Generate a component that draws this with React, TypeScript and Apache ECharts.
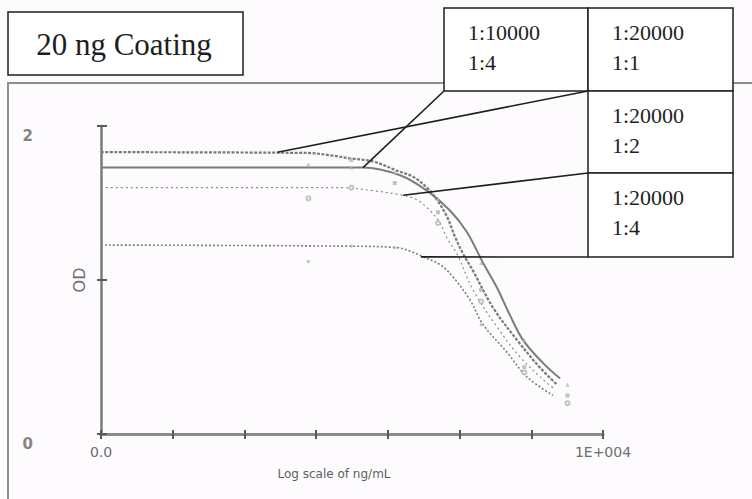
import React, { useEffect, useRef } from "react";
import * as echarts from "echarts";

// Dilution labels shown in the legend table (antibody dilution / sample dilution)
const seriesLabels = [
  ["1:10000", "1:4"],
  ["1:20000", "1:1"],
  ["1:20000", "1:2"],
  ["1:20000", "1:4"],
];

// Fitted curves, [ng/mL, OD]
const curve10000x4: [number, number][] = [
  [0.001, 1.73], [4.5, 1.73], [14.8, 1.68], [35, 1.58], [74, 1.45], [127, 1.31],
  [213, 1.11], [333, 0.95], [506, 0.77], [769, 0.61], [1462, 0.46], [2523, 0.36],
];
const curve20000x1: [number, number][] = [
  [0.001, 1.83], [0.75, 1.825], [1.56, 1.81], [2.97, 1.79], [6.2, 1.77], [13.4, 1.71],
  [22.5, 1.67], [35, 1.6], [48.5, 1.52], [67, 1.41], [86.5, 1.28], [112, 1.17],
  [154, 1.06], [293, 0.82], [634, 0.61], [1327, 0.43], [2290, 0.32],
];
const curve20000x2: [number, number][] = [
  [0.001, 1.6], [2.15, 1.6], [6.2, 1.58], [16.3, 1.55], [25.5, 1.52], [38.8, 1.45],
  [53.5, 1.37], [67, 1.27], [92, 1.17], [154, 0.935], [333, 0.695], [698, 0.5],
  [1660, 0.33], [2150, 0.29],
];
const curve20000x4: [number, number][] = [
  [0.001, 1.227], [2.15, 1.22], [13.4, 1.21], [22.5, 1.18], [31, 1.15], [53.5, 1.1],
  [81, 1.02], [140, 0.87], [213, 0.71], [460, 0.53], [874, 0.37], [2015, 0.25],
];

// Measured standards, [ng/mL, OD]
const points10000x4: [number, number][] = [
  [0.78, 1.75], [3.1, 1.73], [12.5, 1.7], [50, 1.53], [200, 1.11], [800, 0.61], [3200, 0.32],
];
const points20000x1: [number, number][] = [
  [3.1, 1.78], [12.5, 1.63], [50, 1.44], [200, 0.935], [800, 0.435], [3200, 0.25],
];
const points20000x2: [number, number][] = [
  [0.78, 1.53], [3.1, 1.6], [50, 1.37], [200, 0.86], [800, 0.4], [3200, 0.2],
];
const points20000x4: [number, number][] = [
  [0.78, 1.12], [3.1, 1.22], [12.5, 1.21], [200, 0.71],
];

// Where each legend leader line meets its curve, [ng/mL, OD]
const leaderTargets: [number, number][] = [
  [4.5, 1.73],
  [0.29, 1.83],
  [16.3, 1.55],
  [29, 1.15],
];

const titleText = "20 ng Coating";
const xAxisName = "Log scale of ng/mL";
const yAxisName = "OD";
const xEndLabels = { first: "0.0", last: "1E+004" };

const serif = "'Liberation Serif', 'DejaVu Serif', serif";
const sans = "'DejaVu Sans', 'Liberation Sans', sans-serif";

export default function App() {
  const ref = useRef<HTMLDivElement>(null);

  useEffect(() => {
    if (!ref.current) return;
    const chart = echarts.init(ref.current, undefined, { renderer: "svg" });

    const axisX = {
      type: "log" as const,
      logBase: 10,
      min: 0.001,
      max: 10000,
      splitNumber: 7,
      position: "bottom" as const,
      splitLine: { show: false },
      minorTick: { show: false },
    };
    const axisY = {
      type: "value" as const,
      min: 0,
      max: 2,
      interval: 1,
      position: "left" as const,
      splitLine: { show: false },
    };

    const lineSeries = (name: string, data: [number, number][], style: any) => ({
      name,
      type: "line",
      data,
      smooth: 0.35,
      showSymbol: false,
      lineStyle: style,
      z: 3,
    });
    const dotSeries = (name: string, data: [number, number][], symbol: string) => ({
      name,
      type: "scatter",
      data,
      symbol,
      symbolSize: 4,
      itemStyle: { color: "#b4b4b4" },
      z: 4,
    });

    const cellBoxes = [
      [444, 8, 144, 83],
      [588, 8, 145, 83],
      [588, 91, 145, 82],
      [588, 173, 145, 84],
    ];

    const baseGraphic: any[] = [
      {
        type: "rect",
        shape: { x: 8, y: 83, width: 800, height: 500 },
        style: { fill: "none", stroke: "#8e8e8e", lineWidth: 2 },
        z: 0,
      },
      {
        type: "rect",
        shape: { x: 8, y: 12, width: 235, height: 63 },
        style: { fill: "#ffffff", stroke: "#1e1e1e", lineWidth: 1.5 },
        z: 10,
      },
      {
        type: "text",
        x: 124,
        y: 44,
        style: {
          text: titleText,
          font: `31px ${serif}`,
          fill: "#1e1e1e",
          align: "center",
          verticalAlign: "middle",
        },
        z: 11,
      },
    ];
    cellBoxes.forEach(([x, y, w, h], i) => {
      baseGraphic.push({
        type: "rect",
        shape: { x, y, width: w, height: h },
        style: { fill: "#ffffff", stroke: "#1e1e1e", lineWidth: 1.5 },
        z: 10,
      });
      seriesLabels[i].forEach((t, j) => {
        baseGraphic.push({
          type: "text",
          x: x + 24,
          y: y + 24 + j * 30,
          style: {
            text: t,
            font: `22px ${serif}`,
            fill: "#1e1e1e",
            align: "left",
            verticalAlign: "middle",
          },
          z: 11,
        });
      });
    });

    chart.setOption({
      animation: false,
      backgroundColor: "#fdfbfd",
      grid: { left: 101, right: 149, top: 126, bottom: 65, outerBoundsMode: "none" },
      xAxis: [
        {
          ...axisX,
          name: xAxisName,
          nameLocation: "middle",
          nameGap: 34,
          nameMoveOverlap: false,
          nameTextStyle: {
            color: "#5e5e5e",
            fontSize: 12,
            fontFamily: sans,
            padding: [0, 36, 0, 0],
          },
          axisLine: { lineStyle: { color: "#8a8a8a", width: 3 } },
          axisTick: { length: 5, lineStyle: { color: "#5a5a5a", width: 2 } },
          axisLabel: {
            color: "#6e6e6e",
            fontSize: 14,
            fontFamily: sans,
            margin: 11,
            formatter: (v: number) => {
              const e = Math.round(Math.log10(v));
              if (e === -3) return xEndLabels.first;
              if (e === 4) return xEndLabels.last;
              return "";
            },
          },
        },
        {
          ...axisX,
          axisLine: { show: false },
          axisLabel: { show: false },
          axisTick: { inside: true, length: 4, lineStyle: { color: "#5a5a5a", width: 2 } },
        },
      ],
      yAxis: [
        {
          ...axisY,
          name: yAxisName,
          nameLocation: "middle",
          nameRotate: 90,
          nameGap: 14,
          nameMoveOverlap: false,
          nameTextStyle: { color: "#6e6e6e", fontSize: 16, fontFamily: sans },
          axisLine: { lineStyle: { color: "#7a7a7a", width: 2.5 } },
          axisTick: { length: 4, lineStyle: { color: "#5a5a5a", width: 2 } },
          axisLabel: {
            color: "#858585",
            fontSize: 15,
            fontWeight: "bold",
            fontFamily: sans,
            margin: 68,
            verticalAlign: "top",
            padding: [2, 0, 0, 0],
            formatter: (v: number) => (v === 1 ? "" : String(v)),
          },
        },
        {
          ...axisY,
          axisLine: { show: false },
          axisLabel: { show: false },
          axisTick: { inside: true, length: 6, lineStyle: { color: "#5a5a5a", width: 2 } },
        },
      ],
      series: [
        lineSeries(seriesLabels[0].join(" "), curve10000x4, { color: "#7c7c7c", width: 2, type: "solid" }),
        lineSeries(seriesLabels[1].join(" "), curve20000x1, { color: "#7a7a7a", width: 2.2, type: [3, 1.5] }),
        lineSeries(seriesLabels[2].join(" "), curve20000x2, { color: "#8a8a8a", width: 1.2, type: [2, 3] }),
        lineSeries(seriesLabels[3].join(" "), curve20000x4, { color: "#7e7e7e", width: 1.6, type: [2, 2] }),
        dotSeries(seriesLabels[0].join(" ") + " std", points10000x4, "triangle"),
        dotSeries(seriesLabels[1].join(" ") + " std", points20000x1, "rect"),
        dotSeries(seriesLabels[2].join(" ") + " std", points20000x2, "emptyCircle"),
        dotSeries(seriesLabels[3].join(" ") + " std", points20000x4, "diamond"),
      ],
      graphic: baseGraphic,
    });

    // Leader lines from the legend table down to each curve
    const px = (p: [number, number]) =>
      chart.convertToPixel({ xAxisIndex: 0, yAxisIndex: 0 }, p) as number[];
    const starts = [
      [444, 91],
      [588, 91],
      [588, 173],
      [588, 257],
    ];
    const leaders = leaderTargets.map((t, i) => {
      const [x2, y2] = px(t);
      return {
        type: "line",
        shape: { x1: starts[i][0], y1: starts[i][1], x2, y2 },
        style: { stroke: "#1e1e1e", lineWidth: 1.6 },
        z: 12,
      };
    });
    chart.setOption({ graphic: [...baseGraphic, ...leaders] });

    return () => chart.dispose();
  }, []);

  return (
    <div
      ref={ref}
      style={{ position: "fixed", left: 0, top: 0, width: 752, height: 499 }}
    />
  );
}
